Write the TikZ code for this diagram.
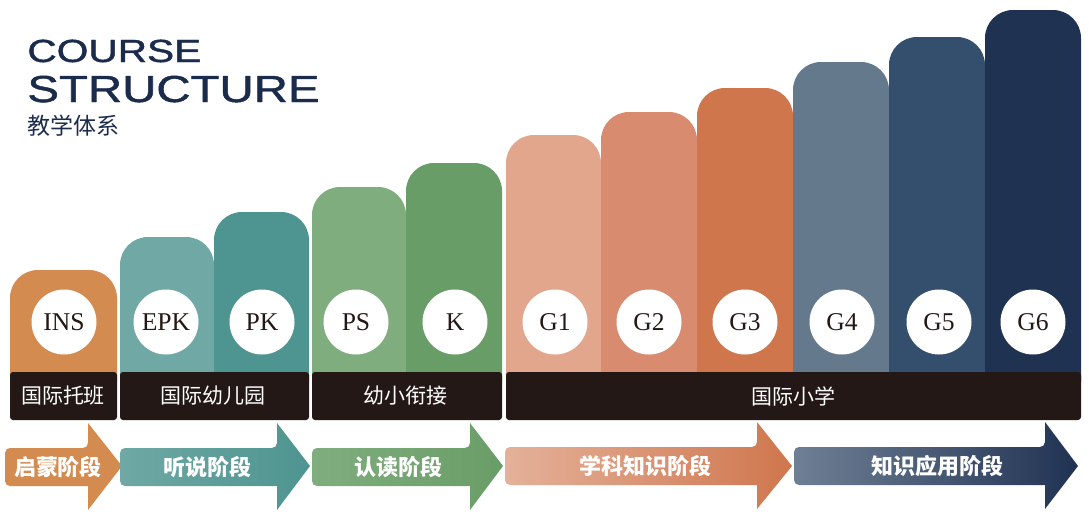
\documentclass[tikz,border=0pt]{standalone}
\usepackage{fontspec}
\usepackage{graphicx}
\setmainfont{Liberation Serif}
\newfontfamily\titlefont{Liberation Sans}[FakeBold=1.2]
\newfontfamily\cjk{Noto Sans CJK SC}
\definecolor{navy}{HTML}{1B2B4B}
\definecolor{bandblack}{HTML}{231815}
\definecolor{insorange}{HTML}{D38B50}
\definecolor{epkteal}{HTML}{6FA8A4}
\definecolor{pkteal}{HTML}{4E9490}
\definecolor{psgreen}{HTML}{80AD7E}
\definecolor{kgreen}{HTML}{699D67}
\definecolor{gone}{HTML}{E2A68C}
\definecolor{gtwo}{HTML}{D98B70}
\definecolor{gthree}{HTML}{CF764D}
\definecolor{gfour}{HTML}{647A8C}
\definecolor{gfive}{HTML}{344F6E}
\definecolor{gsix}{HTML}{203252}
\definecolor{gradestart}{HTML}{E4B19A}
\definecolor{appstart}{HTML}{6F8095}
\begin{document}
\begin{tikzpicture}[x=0.5pt,y=-0.5pt,
	bar/.style={rounded corners=14pt},
	band/.style={fill=bandblack,rounded corners=1.5pt},
	grade/.style={circle,fill=white,minimum size=32.5pt,inner sep=0pt,text=bandblack,font=\fontsize{12.8}{14}\selectfont},
	bandlabel/.style={text=white,font=\cjk\fontsize{10.5}{12}\selectfont},
	stagelabel/.style={text=white,font=\cjk\bfseries\fontsize{11}{13}\selectfont},
	stagearrow/.style={rounded corners=2.5pt}]
			\useasboundingbox (0,0) rectangle (1089,514);
			% title
			\node[anchor=base west,inner sep=0pt,text=navy,font=\titlefont\fontsize{16}{18}\selectfont] (course) at (27,62) {\scalebox{1.27}[1]{COURSE}};
			\node[anchor=base west,inner sep=0pt,text=navy,font=\titlefont\fontsize{18.8}{20}\selectfont] (structure) at (27,102) {\scalebox{1.26}[1]{STRUCTURE}};
			\node[anchor=west,inner sep=0pt,text=navy,font=\cjk\fontsize{11.5}{13}\selectfont] (subtitle) at (27,126) {教学体系};
			% bars
			\fill[bar,insorange] (10,410) -- (10,270) -- (117,270) -- (117,410) -- cycle;
			\fill[bar,epkteal] (120,410) -- (120,237) -- (214,237) -- (214,410) -- cycle;
			\fill[bar,pkteal] (214,410) -- (214,212) -- (309,212) -- (309,410) -- cycle;
			\fill[bar,psgreen] (312,410) -- (312,187) -- (406,187) -- (406,410) -- cycle;
			\fill[bar,kgreen] (406,410) -- (406,163) -- (502,163) -- (502,410) -- cycle;
			\fill[bar,gone] (506,410) -- (506,135) -- (601,135) -- (601,410) -- cycle;
			\fill[bar,gtwo] (601,410) -- (601,112) -- (697,112) -- (697,410) -- cycle;
			\fill[bar,gthree] (697,410) -- (697,88) -- (793,88) -- (793,410) -- cycle;
			\fill[bar,gfour] (793,410) -- (793,62) -- (889,62) -- (889,410) -- cycle;
			\fill[bar,gfive] (889,410) -- (889,37) -- (985,37) -- (985,410) -- cycle;
			\fill[bar,gsix] (985,410) -- (985,10) -- (1081,10) -- (1081,410) -- cycle;
			% grade circles
			\node[grade] (ins) at (64,322) {INS};
			\node[grade] (epk) at (166,322) {EPK};
			\node[grade] (pk) at (262,322) {PK};
			\node[grade] (ps) at (356,322) {PS};
			\node[grade] (k) at (455,322) {K};
			\node[grade] (g1) at (555,322) {G1};
			\node[grade] (g2) at (649,322) {G2};
			\node[grade] (g3) at (745,322) {G3};
			\node[grade] (g4) at (842,322) {G4};
			\node[grade] (g5) at (939,322) {G5};
			\node[grade] (g6) at (1033,322) {G6};
			% bands
			\fill[band] (10,372) rectangle (117,420);
			\fill[band] (120,372) rectangle (309,420);
			\fill[band] (312,372) rectangle (502,420);
			\fill[band] (506,372) rectangle (1081,420);
			\node[bandlabel] (nursery) at (63,396) {国际托班};
			\node[bandlabel] (kinder) at (213,396) {国际幼儿园};
			\node[bandlabel] (bridge) at (405,396) {幼小衔接};
			\node[bandlabel] (primary) at (793,396) {国际小学};
			% stage arrows
			\fill[stagearrow,insorange] (5,448) -- (88,448) [sharp corners] -- (88,423) -- (122,466) -- (88,510) -- (88,486) [rounded corners=2.5pt] -- (5,486) -- cycle;
			\shade[stagearrow,left color=epkteal,right color=pkteal] (120,448) -- (277,448) [sharp corners] -- (277,423) -- (310,466) -- (277,510) -- (277,486) [rounded corners=2.5pt] -- (120,486) -- cycle;
			\shade[stagearrow,left color=psgreen,right color=kgreen] (312,448) -- (470,448) [sharp corners] -- (470,423) -- (503,466) -- (470,510) -- (470,486) [rounded corners=2.5pt] -- (312,486) -- cycle;
			\shade[stagearrow,left color=gradestart,right color=gthree] (505,447) -- (757,447) [sharp corners] -- (757,422) -- (792,466) -- (757,509) -- (757,485) [rounded corners=2.5pt] -- (505,485) -- cycle;
			\shade[stagearrow,left color=appstart,right color=gsix] (794,447) -- (1045,447) [sharp corners] -- (1045,422) -- (1078,466) -- (1045,509) -- (1045,485) [rounded corners=2.5pt] -- (794,485) -- cycle;
			\node[stagelabel] (enlight) at (58,467) {启蒙阶段};
			\node[stagelabel] (listen) at (207,467) {听说阶段};
			\node[stagelabel] (read) at (398,467) {认读阶段};
			\node[stagelabel] (subject) at (645,466) {学科知识阶段};
			\node[stagelabel] (apply) at (937,466) {知识应用阶段};
		\end{tikzpicture}
\end{document}
